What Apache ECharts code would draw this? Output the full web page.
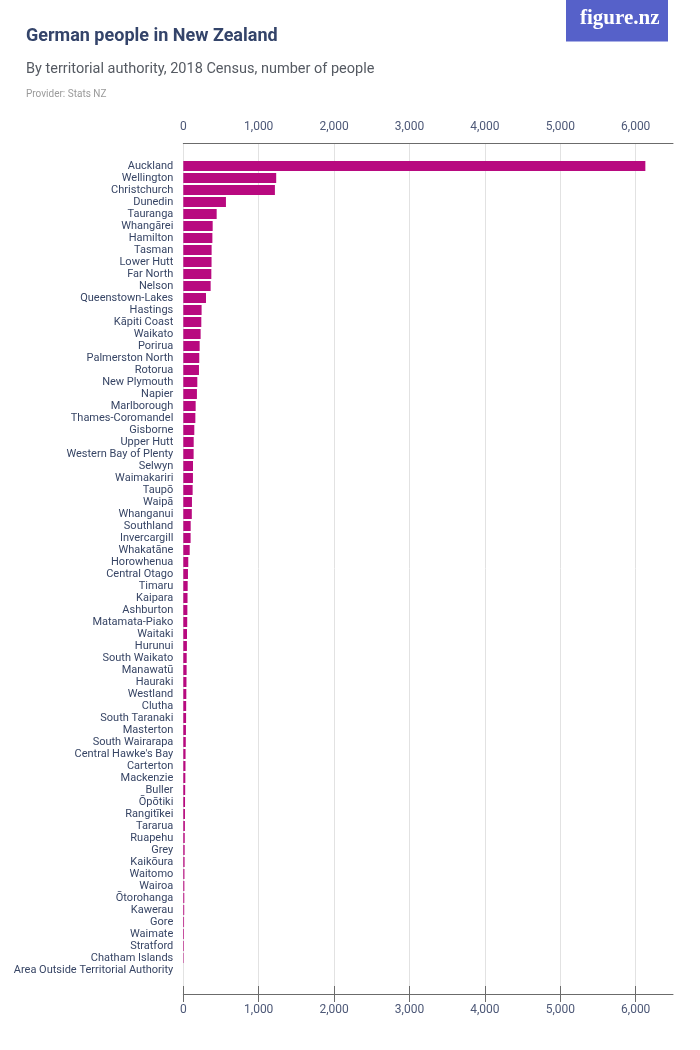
<!DOCTYPE html>
<html>
<head>
<meta charset="utf-8">
<script src="https://cdn.jsdelivr.net/npm/echarts@6/dist/echarts.min.js"></script>
<style>
html,body{margin:0;padding:0;background:#fff;}
#chart{width:700px;height:1050px;}
</style>
</head>
<body>
<div id="chart"></div>
<script>
const categories = [
  "Auckland","Wellington","Christchurch","Dunedin","Tauranga","Whangārei","Hamilton","Tasman",
  "Lower Hutt","Far North","Nelson","Queenstown-Lakes","Hastings","Kāpiti Coast","Waikato","Porirua",
  "Palmerston North","Rotorua","New Plymouth","Napier","Marlborough","Thames-Coromandel","Gisborne",
  "Upper Hutt","Western Bay of Plenty","Selwyn","Waimakariri","Taupō","Waipā","Whanganui","Southland",
  "Invercargill","Whakatāne","Horowhenua","Central Otago","Timaru","Kaipara","Ashburton",
  "Matamata-Piako","Waitaki","Hurunui","South Waikato","Manawatū","Hauraki","Westland","Clutha",
  "South Taranaki","Masterton","South Wairarapa","Central Hawke's Bay","Carterton","Mackenzie",
  "Buller","Ōpōtiki","Rangitīkei","Tararua","Ruapehu","Grey","Kaikōura","Waitomo","Wairoa",
  "Ōtorohanga","Kawerau","Gore","Waimate","Stratford","Chatham Islands","Area Outside Territorial Authority"
];
const people = [
  6133,1233,1216,566,443,390,386,376,
  375,372,363,301,243,239,230,217,
  212,208,186,181,164,160,146,
  138,137,129,128,124,115,113,98,
  97,85,66,62,58,56,54,
  52,49,48,45,44,42,40,38,
  37,35,33,30,29,27,
  25,23,22,21,19,18,17,15,14,
  13,12,10,9,8,6,0
];
const axisMin = 0;
const axisTickMax = 6000;
const axisMax = 6500;
const axisInterval = 1000;

const titleText = "German people in New Zealand";
const subtitleText = "By territorial authority, 2018 Census, number of people";
const providerText = "Provider: Stats NZ";

const FONT = "Roboto, 'Liberation Sans', sans-serif";
const fmt = v => Number(v).toLocaleString('en-US');

const chart = echarts.init(document.getElementById('chart'), null, {renderer: 'canvas'});

const decoAxis = (pos) => ({
  type: 'value', gridIndex: 0, position: pos,
  min: axisMin, max: axisTickMax, interval: axisInterval,
  axisLine: {show: false},
  axisTick: {show: true, length: 8, lineStyle: {color: '#6b6b6b', width: 1}},
  axisLabel: {show: true, formatter: fmt, color: '#4d5877', fontSize: 12, fontFamily: FONT, margin: 10},
  splitLine: {show: pos === 'top', lineStyle: {color: '#e2e2e2', width: 1}}
});
const lineAxis = (pos, off) => ({
  type: 'value', gridIndex: 1, position: pos, offset: off,
  min: axisMin, max: axisMax,
  axisLine: {show: true, onZero: false, lineStyle: {color: '#6b6b6b', width: 1}},
  axisTick: {show: false}, axisLabel: {show: false}, splitLine: {show: false}
});

chart.setOption({
  animation: false,
  backgroundColor: '#ffffff',
  title: [
    {text: titleText, left: 26, top: 27, padding: 0, textStyle: {fontFamily: FONT, fontSize: 18, fontWeight: 'bold', color: '#34446a'}},
    {text: subtitleText, left: 26, top: 62, padding: 0, textStyle: {fontFamily: FONT, fontSize: 14.5, fontWeight: 'normal', color: '#555a62'}},
    {text: providerText, left: 26, top: 89, padding: 0, textStyle: {fontFamily: FONT, fontSize: 10, fontWeight: 'normal', color: '#9a9a9a'}}
  ],
  graphic: [
    {type: 'rect', left: 566, top: 0, shape: {width: 102, height: 41}, style: {fill: '#5661c9'}},
    {type: 'rect', left: 566, top: 41, shape: {width: 102, height: 1}, style: {fill: '#aab0e6'}},
    {type: 'text', left: 580, top: 8, style: {text: 'figure.nz', fill: '#ffffff', font: "bold 21px 'Liberation Serif', 'DejaVu Serif', serif"}}
  ],
  grid: [
    {left: 183.3, width: 452.4, top: 143, height: 851, containLabel: false, outerBoundsMode: 'none'},
    {left: 183.3, width: 489.7, top: 160, height: 816, containLabel: false, outerBoundsMode: 'none'}
  ],
  xAxis: [
    decoAxis('top'),
    decoAxis('bottom'),
    lineAxis('top', 17),
    lineAxis('bottom', 18)
  ],
  yAxis: [
    {type: 'value', gridIndex: 0, min: 0, max: 1, show: false},
    {
      type: 'category', gridIndex: 1, data: categories, inverse: true,
      axisLine: {show: false}, axisTick: {show: false}, splitLine: {show: false},
      axisLabel: {color: '#374565', fontSize: 11, fontFamily: FONT, margin: 10, interval: 0}
    }
  ],
  series: [{
    type: 'bar', xAxisIndex: 2, yAxisIndex: 1,
    data: people, barCategoryGap: '17%',
    itemStyle: {color: '#b8097f'}
  }]
});
</script>
</body>
</html>
